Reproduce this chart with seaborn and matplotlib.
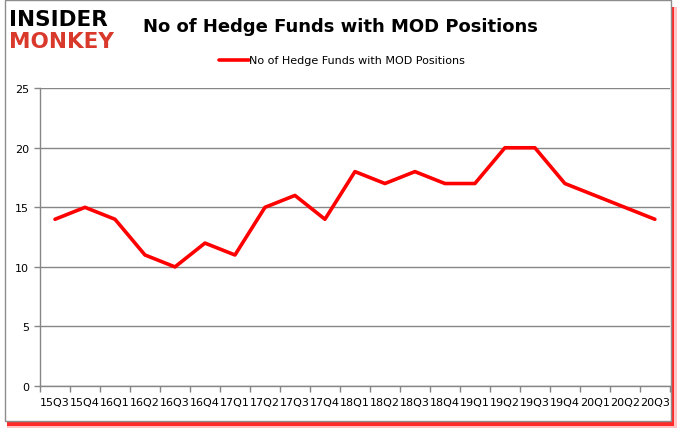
import numpy as np
import pandas as pd
import matplotlib
matplotlib.use("Agg")
import matplotlib.pyplot as plt
import seaborn as sns
from matplotlib.patches import Rectangle

quarters = ["15Q3", "15Q4", "16Q1", "16Q2", "16Q3", "16Q4", "17Q1", "17Q2", "17Q3",
            "17Q4", "18Q1", "18Q2", "18Q3", "18Q4", "19Q1", "19Q2", "19Q3", "19Q4",
            "20Q1", "20Q2", "20Q3"]
funds = [14, 15, 14, 11, 10, 12, 11, 15, 16, 14, 18, 17, 18, 17, 17, 20, 20, 17, 16, 15, 14]
series_name = "No of Hedge Funds with MOD Positions"

df = pd.DataFrame({"quarter": quarters, "funds": funds})

sns.set_style("white")
plt.rcParams["font.family"] = ["DejaVu Sans"]
plt.rcParams["text.color"] = "black"
plt.rcParams["xtick.color"] = "#868686"
plt.rcParams["ytick.color"] = "#868686"
plt.rcParams["xtick.labelcolor"] = "black"
plt.rcParams["ytick.labelcolor"] = "black"

fig = plt.figure(figsize=(6.78, 4.31), dpi=100)
ax = fig.add_axes([0.059, 0.102, 0.929, 0.691])

sns.lineplot(data=df, x="quarter", y="funds", ax=ax, color="#ff0000",
             linewidth=2.6, sort=False)

ax.set_xlim(-0.5, len(quarters) - 0.5)
ax.set_ylim(0, 25)
ax.set_yticks(range(0, 26, 5))
ax.set_xticks(range(len(quarters)))
ax.set_xticklabels(quarters, fontsize=8)
ax.set_xticks(np.arange(-0.5, len(quarters), 1), minor=True)
ax.tick_params(axis="x", which="major", length=0, pad=8)
ax.tick_params(axis="x", which="minor", bottom=True, length=4, width=1, direction="out")
ax.tick_params(axis="y", left=True, length=4, width=1, labelsize=8, pad=4)
ax.set_xlabel("")
ax.set_ylabel("")
ax.yaxis.grid(True, color="#868686", linewidth=1)
ax.set_axisbelow(True)
for side in ["top", "right"]:
    ax.spines[side].set_visible(False)
for side in ["left", "bottom"]:
    ax.spines[side].set_color("#868686")
    ax.spines[side].set_linewidth(1)
if ax.get_legend():
    ax.get_legend().remove()

# legend
fig.lines.append(plt.Line2D([0.323, 0.367], [0.858, 0.858], transform=fig.transFigure,
                            color="#ff0000", linewidth=2.6))
fig.text(0.367, 0.858, series_name, fontsize=8, va="center", ha="left")

# title
fig.text(0.502, 0.938, series_name, fontsize=13, fontweight="bold", va="center", ha="center")

# logo
fig.text(0.014, 0.954, "INSIDER", fontsize=15.5, fontweight="heavy", color="black",
         va="center", ha="left")
fig.text(0.014, 0.903, "MONKEY", fontsize=15.5, fontweight="heavy", color="#d9392b",
         va="center", ha="left")

# frame with red drop shadow (bottom and right)
fig.patches.append(Rectangle((0.011, 0.004), 0.987, 0.978, transform=fig.transFigure,
                             facecolor="#ffc4c4", edgecolor="none", zorder=-3))
fig.patches.append(Rectangle((0.011, 0.010), 0.983, 0.972, transform=fig.transFigure,
                             facecolor="#ff2a2a", edgecolor="none", zorder=-2))
fig.patches.append(Rectangle((0.0074, 0.0209), 0.982, 0.977, transform=fig.transFigure,
                             facecolor="white", edgecolor="#8c8c8c", linewidth=1, zorder=-1))

fig.savefig("out.png", dpi=100)
